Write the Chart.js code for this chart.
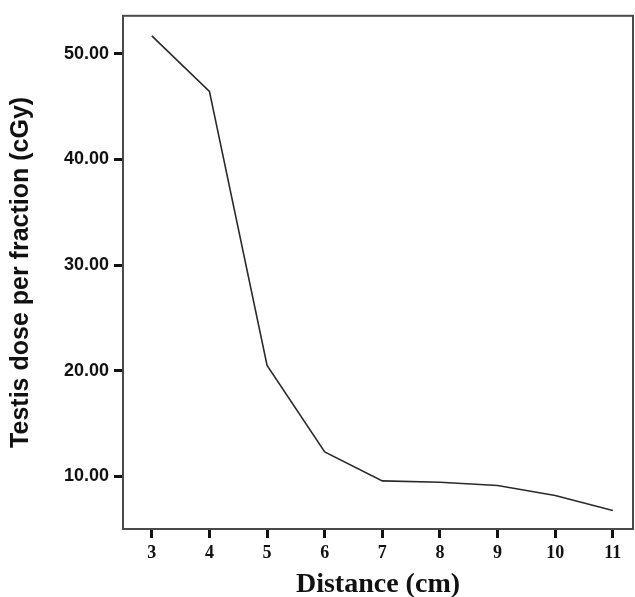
<!DOCTYPE html>
<html>
<head>
<meta charset="utf-8">
<script src="https://cdn.jsdelivr.net/npm/chart.js@4"></script>
<style>
  html, body { margin: 0; padding: 0; background: #fff; }
  #wrap { width: 635px; height: 597px; }
</style>
</head>
<body>
<div id="wrap"><canvas id="myChart" width="635" height="597"></canvas></div>
<script>
// distance from field edge (cm) and testis dose per fraction (cGy)
const distances = [3, 4, 5, 6, 7, 8, 9, 10, 11];
const doses = [51.7, 46.45, 20.5, 12.3, 9.56, 9.43, 9.12, 8.17, 6.75];
const yTicks = [10, 20, 30, 40, 50];

const boxPlugin = {
    id: 'box',
    afterDraw(chart) {
        const a = chart.chartArea;
        const ctx = chart.ctx;
        ctx.save();
        ctx.strokeStyle = '#4a4a4a';
        ctx.lineWidth = 2;
        ctx.strokeRect(a.left, a.top, a.right - a.left, a.bottom - a.top);
        ctx.restore();
    }
};

const ctx = document.getElementById('myChart').getContext('2d');

const myChart = new Chart(ctx, {
    type: 'line',
    data: {
        datasets: [{
            data: distances.map((d, i) => ({ x: d, y: doses[i] })),
            borderColor: '#2a2a2a',
            borderWidth: 1.6,
            pointRadius: 0,
            tension: 0,
            fill: false
        }]
    },
    options: {
        responsive: false,
        animation: false,
        layout: { padding: { top: 15, right: 2, left: 0, bottom: 0 } },
        plugins: {
            legend: { display: false },
            tooltip: { enabled: false }
        },
        scales: {
            x: {
                type: 'linear',
                min: 2.5,
                max: 11.35,
                afterBuildTicks: (scale) => { scale.ticks = distances.map(v => ({ value: v })); },
                afterFit: (scale) => { scale.height = 68; },
                border: { display: false },
                grid: { drawOnChartArea: false, drawTicks: true, tickLength: 9, tickWidth: 3, tickColor: '#111' },
                ticks: {
                    padding: 5,
                    color: '#111',
                    maxRotation: 0,
                    font: { family: '"Liberation Serif", "Times New Roman", serif', size: 18, weight: 'bold' }
                },
                title: {
                    display: true,
                    text: 'Distance (cm)',
                    color: '#111',
                    padding: { top: 0, bottom: -2 },
                    font: { family: '"Liberation Serif", "Times New Roman", serif', size: 28, weight: 'bold', lineHeight: 1 }
                }
            },
            y: {
                min: 5,
                max: 53.6,
                afterBuildTicks: (scale) => { scale.ticks = yTicks.map(v => ({ value: v })); },
                afterFit: (scale) => { scale.width = 123; },
                border: { display: false },
                grid: { drawOnChartArea: false, drawTicks: true, tickLength: 9, tickWidth: 3, tickColor: '#111' },
                ticks: {
                    padding: 5,
                    color: '#111',
                    callback: (v) => Number(v).toFixed(2),
                    font: { family: '"Liberation Sans", Arial, sans-serif', size: 18, weight: 'bold' }
                },
                title: {
                    display: true,
                    text: 'Testis dose per fraction (cGy)',
                    color: '#111',
                    padding: { top: 9, bottom: 0 },
                    font: { family: '"Liberation Sans", Arial, sans-serif', size: 25, weight: 'bold', lineHeight: 1 }
                }
            }
        }
    },
    plugins: [boxPlugin]
});
</script>
</body>
</html>
